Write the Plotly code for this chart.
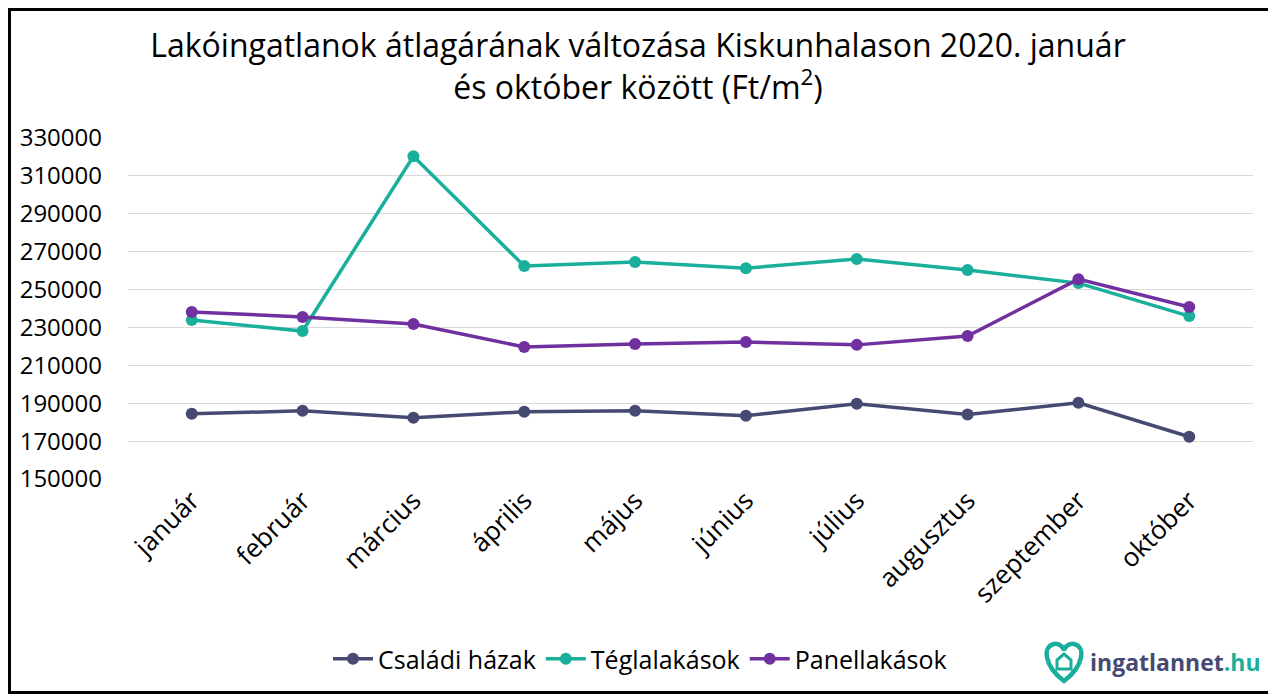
import plotly.graph_objects as go

months = ["január", "február", "március", "április", "május", "június",
          "július", "augusztus", "szeptember", "október"]

csaladi_hazak = [184400, 186000, 182300, 185500, 186000, 183400, 189700, 184000, 190200, 172300]
teglalakasok = [233900, 228100, 320400, 262400, 264500, 261300, 266100, 260300, 253400, 236000]
panellakasok = [238200, 235500, 231800, 219700, 221300, 222300, 220800, 225500, 255500, 240800]

y_ticks = list(range(150000, 330001, 20000))

# the page puts the figure 8px in from the top-left corner
OFF = 8
W, H = 1276 - OFF, 695 - OFF
L, R, T, B = 128 - OFF, 23, 138 - OFF, 216

FONT = "Open Sans, sans-serif"
NAVY, TEAL, PURPLE = "#464a73", "#1aaf9b", "#7030a0"

fig = go.Figure()

series = [
    ("Családi házak", csaladi_hazak, NAVY),
    ("Téglalakások", teglalakasok, TEAL),
    ("Panellakások", panellakasok, PURPLE),
]
for name, vals, col in series:
    fig.add_trace(go.Scatter(
        x=months, y=vals, name=name,
        mode="lines+markers",
        line=dict(color=col, width=3.5),
        marker=dict(color=col, size=12),
        cliponaxis=False,
    ))


# screen pixel -> paper coords, for the frame and the logo
def px(x):
    return (x - OFF - L) / (W - L - R)


def py(y):
    return (H - B - (y - OFF)) / (H - T - B)


fig.add_shape(type="rect", xref="paper", yref="paper",
              x0=px(OFF + 1.5), x1=px(1273.5), y0=py(692.5), y1=py(OFF + 1.5),
              line=dict(color="black", width=3), fillcolor="rgba(0,0,0,0)",
              layer="below")

# logo: heart with a small house, then the site name
cx, cy = 1064, 662
heart = [
    ("M", 0, 19), ("C", -21, 3, -21, -16, -10, -18), ("C", -4, -19, 0, -14, 0, -11),
    ("C", 0, -14, 4, -19, 10, -18), ("C", 21, -16, 21, 3, 0, 19),
]


def to_path(cmds, close=True):
    out = []
    for c in cmds:
        pts = c[1:]
        xy = " ".join(f"{px(cx + pts[i]):.5f},{py(cy + pts[i + 1]):.5f}"
                      for i in range(0, len(pts), 2))
        out.append(c[0] + xy)
    return " ".join(out) + (" Z" if close else "")


fig.add_shape(type="path", xref="paper", yref="paper", path=to_path(heart),
              line=dict(color=TEAL, width=4.5))
house = [("M", -7, 7), ("L", -7, -2), ("L", 0, -8), ("L", 7, -2), ("L", 7, 7)]
fig.add_shape(type="path", xref="paper", yref="paper", path=to_path(house),
              line=dict(color=TEAL, width=3))
fig.add_annotation(
    xref="paper", yref="paper", x=px(1088), y=py(662),
    xanchor="left", yanchor="middle", showarrow=False,
    text="<b><span style='color:#464a73'>ingatlannet</span>"
         "<span style='color:#1aaf9b'>.hu</span></b>",
    font=dict(family=FONT, size=23, color=NAVY),
)

fig.update_layout(
    width=W, height=H,
    margin=dict(l=L, r=R, t=T, b=B),
    paper_bgcolor="white", plot_bgcolor="white",
    font=dict(family=FONT, color="#000000", size=22),
    title=dict(
        text="Lakóingatlanok átlagárának változása Kiskunhalason 2020. január<br>"
             "és október között (Ft/m<sup>2</sup>)",
        x=(638 - OFF) / W, xref="container", xanchor="center",
        y=1 - (57 - OFF) / H, yref="container", yanchor="middle",
        font=dict(family=FONT, size=32, color="#000000"),
    ),
    showlegend=True,
    legend=dict(
        orientation="h", x=px(640), y=py(659), xanchor="center", yanchor="middle",
        xref="paper", yref="paper",
        font=dict(family=FONT, size=25, color="#000000"),
        itemwidth=40, tracegroupgap=0,
    ),
)

fig.update_xaxes(
    tickangle=-45, showgrid=False, showline=False, ticks="",
    tickfont=dict(family=FONT, size=26, color="#000000"),
)
fig.update_yaxes(
    range=[150000, 330000], tickvals=y_ticks, tickformat="d",
    showgrid=True, gridcolor="#d9d9d9", gridwidth=1.3,
    zeroline=False, showline=False, ticks="", ticklabelstandoff=25,
    tickfont=dict(family=FONT, size=24, color="#000000"),
)

fig.write_html("out.html")
